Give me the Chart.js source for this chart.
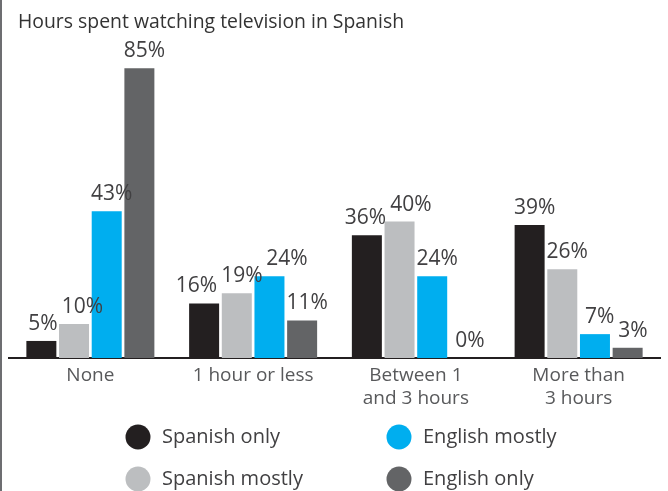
<!DOCTYPE html>
<html>
<head>
<meta charset="utf-8">
<script src="https://cdn.jsdelivr.net/npm/chart.js@4/dist/chart.umd.min.js"></script>
<style>
  html, body { margin: 0; padding: 0; background: #ffffff; }
  canvas { display: block; }
</style>
</head>
<body>
<canvas id="c" width="668" height="491"></canvas>
<script>
const titleText = "Hours spent watching television in Spanish";
const categories = ["None", "1 hour or less", ["Between 1", "and 3 hours"], ["More than", "3 hours"]];
const seriesNames = ["Spanish only", "Spanish mostly", "English mostly", "English only"];
const spanishOnly = [5, 16, 36, 39];
const spanishMostly = [10, 19, 40, 26];
const englishMostly = [43, 24, 24, 7];
const englishOnly = [85, 11, 0, 3];
const seriesColors = ["#231f20", "#bcbec0", "#00aeef", "#636466"];

const FONT = "'Open Sans', 'Noto Sans', 'DejaVu Sans', sans-serif";

const decorPlugin = {
  id: 'decor',
  afterDraw(chart) {
    const ctx = chart.ctx;
    ctx.save();
    // left frame line
    ctx.fillStyle = '#6d6e71';
    ctx.fillRect(0, 0, 2, chart.height);
    // title
    ctx.fillStyle = '#333333';
    ctx.font = '19.4px ' + FONT;
    ctx.textAlign = 'left';
    ctx.textBaseline = 'alphabetic';
    ctx.fillText(titleText, 18, 28);
    // legend (2 x 2 grid, column-major)
    const colX = [138, 399];
    const rowY = [437, 479];
    ctx.font = '20px ' + FONT;
    chart.data.datasets.forEach((ds, i) => {
      const cx = colX[Math.floor(i / 2)];
      const cy = rowY[i % 2];
      ctx.beginPath();
      ctx.arc(cx, cy, 12.5, 0, Math.PI * 2);
      ctx.fillStyle = ds.backgroundColor;
      ctx.fill();
      ctx.fillStyle = '#414042';
      ctx.textBaseline = 'middle';
      ctx.fillText(ds.label, cx + 24, cy);
    });
    ctx.restore();
  },
  afterDatasetsDraw(chart) {
    const ctx = chart.ctx;
    ctx.save();
    ctx.font = '21px ' + FONT;
    ctx.fillStyle = '#414042';
    ctx.textAlign = 'center';
    ctx.textBaseline = 'alphabetic';
    const n = chart.data.labels.length;
    for (let g = 0; g < n; g++) {
      const items = [];
      chart.data.datasets.forEach((ds, di) => {
        const el = chart.getDatasetMeta(di).data[g];
        const txt = ds.data[g] + '%';
        const w = ctx.measureText(txt).width;
        items.push({ txt, x: el.x + 5, y: el.y - 11, w });
      });
      items.sort((a, b) => a.x - b.x);
      for (let it = 0; it < 20; it++) {
        let moved = false;
        for (let i = 0; i < items.length - 1; i++) {
          const a = items[i], b = items[i + 1];
          if (Math.abs(a.y - b.y) >= 19) continue;
          const overlap = (a.x + a.w / 2 + 4) - (b.x - b.w / 2);
          if (overlap > 0.5) {
            a.x -= overlap / 2;
            b.x += overlap / 2;
            moved = true;
          }
        }
        if (!moved) break;
      }
      items.forEach(it => ctx.fillText(it.txt, it.x, it.y));
    }
    ctx.restore();
  }
};

const datasets = [spanishOnly, spanishMostly, englishMostly, englishOnly].map((d, i) => ({
  label: seriesNames[i],
  data: d,
  backgroundColor: seriesColors[i],
  borderWidth: 0,
  barPercentage: 0.918,
  categoryPercentage: 0.803
}));

new Chart(document.getElementById('c'), {
  type: 'bar',
  data: { labels: categories, datasets },
  options: {
    responsive: false,
    animation: false,
    devicePixelRatio: 1,
    layout: { padding: { top: 17, left: 9, right: 8, bottom: 73 } },
    plugins: {
      legend: { display: false },
      title: { display: false },
      tooltip: { enabled: false }
    },
    scales: {
      x: {
        grid: { display: false, drawTicks: false },
        border: { display: true, color: '#231f20', width: 2 },
        ticks: {
          color: '#58595b',
          font: { family: FONT, size: 19 },
          padding: 6,
          maxRotation: 0,
          autoSkip: false
        },
        afterFit(scale) { scale.height = 60; }
      },
      y: {
        display: false,
        min: 0,
        max: 100
      }
    }
  },
  plugins: [decorPlugin]
});
</script>
</body>
</html>
